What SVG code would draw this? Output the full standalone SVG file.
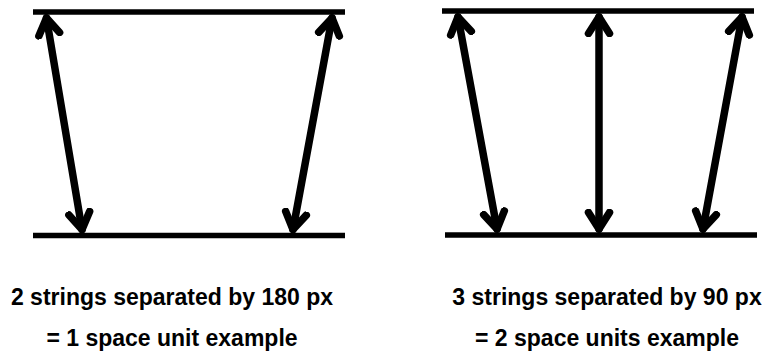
<svg xmlns="http://www.w3.org/2000/svg" width="777" height="352" viewBox="0 0 777 352">
<defs>
<marker id="ah" markerUnits="userSpaceOnUse" markerWidth="40" markerHeight="40" refX="20" refY="20" orient="auto-start-reverse" viewBox="0 0 40 40">
<path d="M3.5,9.5 L20,20 L3.5,30.5" fill="none" stroke="#000" stroke-width="7.5" stroke-linecap="round" stroke-linejoin="round"/>
</marker>
<style>
.bar{stroke:#000;stroke-width:5.5;fill:none}
.arr{stroke:#000;stroke-width:7.5;fill:none;stroke-linecap:round;marker-start:url(#ah);marker-end:url(#ah)}
.lbl{font-family:"Liberation Sans",Arial,sans-serif;font-weight:bold;font-size:23px;fill:#000;text-anchor:middle}
</style>
</defs>
<g id="left-diagram">
<line class="bar" x1="33" y1="12" x2="345" y2="12"/>
<line class="bar" x1="33" y1="235.5" x2="345" y2="235.5"/>
</g>
<g id="right-diagram">
<line class="bar" x1="442" y1="11" x2="754" y2="11"/>
<line class="bar" x1="445" y1="235" x2="757" y2="235"/>
</g>
<g id="connectors">
<line class="arr" x1="46.5" y1="18" x2="82" y2="229.5"/>
<line class="arr" x1="332" y1="18" x2="293" y2="229.5"/>
<line class="arr" x1="458" y1="17" x2="497" y2="229"/>
<line class="arr" x1="599" y1="17" x2="599" y2="229"/>
<line class="arr" x1="742" y1="17" x2="703" y2="229"/>
</g>
<g id="labels">
<text class="lbl" x="172" y="305">2 strings separated by 180 px</text>
<text class="lbl" x="172" y="346">= 1 space unit example</text>
<text class="lbl" x="607" y="305">3 strings separated by 90 px</text>
<text class="lbl" x="607" y="346">= 2 space units example</text>
</g>
</svg>
